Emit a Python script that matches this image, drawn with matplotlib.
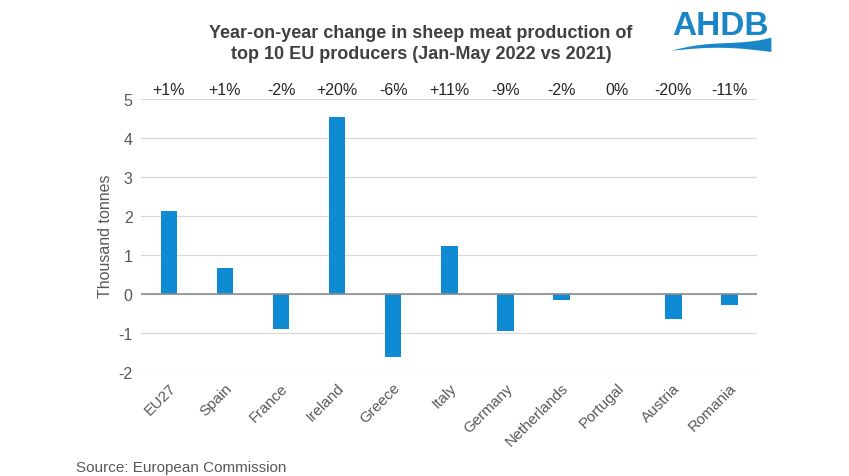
import numpy as np
import matplotlib.pyplot as plt

# --- data ---
countries = ['EU27', 'Spain', 'France', 'Ireland', 'Greece', 'Italy',
             'Germany', 'Netherlands', 'Portugal', 'Austria', 'Romania']
change_kt = [2.14, 0.67, -0.90, 4.55, -1.62, 1.24, -0.96, -0.15, 0.0, -0.64, -0.27]
pct_labels = ['+1%', '+1%', '-2%', '+20%', '-6%', '+11%', '-9%', '-2%', '0%', '-20%', '-11%']
y_ticks = [-2, -1, 0, 1, 2, 3, 4, 5]

plt.rcParams['font.family'] = ['Liberation Sans', 'DejaVu Sans']

bar_col = '#0E8BD3'
txt_grey = '#595959'

fig = plt.figure(figsize=(8.49, 4.77), dpi=100)
ax = fig.add_axes([0.166, 0.218, 0.726, 0.572])

x = np.arange(len(countries))
ax.bar(x, change_kt, width=0.3, color=bar_col, zorder=3)

ax.set_xlim(-0.5, len(countries) - 0.5)
ax.set_ylim(-2, 5)
ax.set_yticks(y_ticks)
ax.set_yticklabels([str(v) for v in y_ticks], fontsize=11.5, color=txt_grey)
ax.grid(axis='y', color='#d9d9d9', linewidth=0.9, zorder=0)
ax.axhline(0, color='#8c8c8c', linewidth=1.2, zorder=4)
for s in ax.spines.values():
    s.set_visible(False)
ax.tick_params(axis='both', length=0, pad=6)

ax.set_xticks(x)
ax.set_xticklabels(countries, rotation=45, ha='right', rotation_mode='anchor',
                   fontsize=11, color=txt_grey)
ax.set_ylabel('Thousand tonnes', fontsize=11.5, color=txt_grey, labelpad=4)

# percentage labels above plot
for xi, lab in zip(x, pct_labels):
    ax.text(xi, 5.06, lab, ha='center', va='bottom', fontsize=11.5, color='#262626')

fig.text(0.496, 0.908, 'Year-on-year change in sheep meat production of\n'
         'top 10 EU producers (Jan-May 2022 vs 2021)',
         ha='center', va='center', fontsize=13, fontweight='bold', color='#404040',
         linespacing=1.3)

fig.text(0.089, 0.0105, 'Source: European Commission', ha='left', va='baseline',
         fontsize=11, color=txt_grey)

# logo
fig.text(0.848, 0.945, 'AHDB', ha='center', va='center', fontsize=24,
         fontweight='bold', color='#1a86c8')
lax = fig.add_axes([0.79, 0.875, 0.118, 0.05])
lax.set_xlim(0, 1)
lax.set_ylim(0, 1)
lax.axis('off')
t = np.linspace(0, 1, 100)
upper = 0.35 + 0.35 * np.sin(np.pi * t) * (1 - t) + 0.55 * t ** 2
lower = 0.35 - 0.05 * t + 0.15 * np.sin(np.pi * t)
lax.fill_between(t, lower, upper, color='#1a86c8', lw=0)

fig.savefig('out.png', dpi=100)
